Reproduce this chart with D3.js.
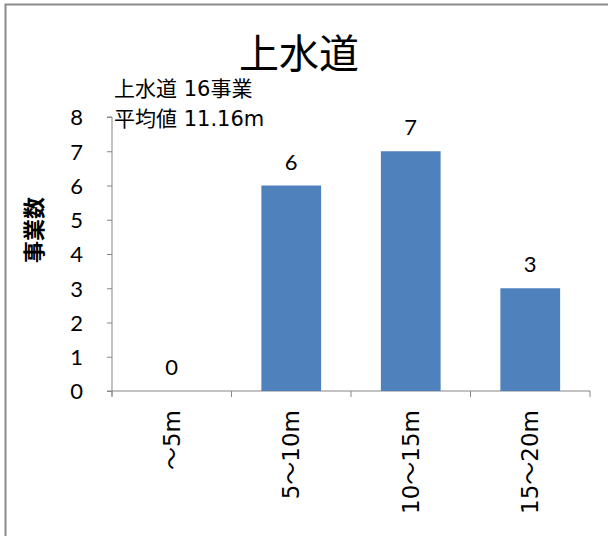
<!DOCTYPE html>
<html>
<head>
<meta charset="utf-8">
<script src="https://cdn.jsdelivr.net/npm/d3@7"></script>
<style>
  body { margin: 0; background: #fff; }
  svg { display: block; }
  .tick text { font-family: Lato, "Liberation Sans", sans-serif; }
</style>
</head>
<body>
<div id="chart"></div>
<script>
const categories = ['～5m', '5～10m', '10～15m', '15～20m'];
const counts = [0, 6, 7, 3];
const yTicks = [0, 1, 2, 3, 4, 5, 6, 7, 8];
const titleText = '上水道';
const noteLines = ['上水道 16事業', '平均値 11.16m'];
const yLabel = '事業数';

const width = 608;
const height = 536;
const margin = { top: 117, right: 18, bottom: 145, left: 112 };
const jpFont = '"DejaVu Sans", "Noto Sans CJK JP", sans-serif';

const svg = d3.select('#chart')
              .append('svg')
              .attr('width', width)
              .attr('height', height);

// outer frame (only top and left edges are visible in the original)
svg.append('rect')
   .attr('x', 5.5)
   .attr('y', 4.5)
   .attr('width', width + 10)
   .attr('height', height + 10)
   .attr('fill', 'none')
   .attr('stroke', '#8a8a8a')
   .attr('stroke-width', 2);

const x = d3.scaleBand()
            .domain(categories)
            .range([margin.left, width - margin.right])
            .paddingInner(0.5)
            .paddingOuter(0.25);

const y = d3.scaleLinear()
            .domain([0, 8])
            .range([height - margin.bottom, margin.top]);

const axisColor = '#868686';

// y axis
const yAxis = svg.append('g')
                 .attr('transform', 'translate(' + margin.left + ',0)')
                 .call(d3.axisLeft(y).tickValues(yTicks).tickSize(5).tickPadding(24));
yAxis.selectAll('path, line').attr('stroke', axisColor);
yAxis.select('.domain').attr('d', 'M-5,' + y(8) + 'H0V' + (y(0) + 5));
yAxis.selectAll('text')
     .style('font-size', '22px')
     .attr('fill', '#000')
     .attr('dy', '0.36em');

// x axis (ticks at band boundaries)
const xAxisG = svg.append('g')
                  .attr('transform', 'translate(0,' + y(0) + ')');
xAxisG.append('line')
      .attr('x1', margin.left - 5)
      .attr('x2', width - margin.right)
      .attr('stroke', axisColor);
const step = x.step();
const bounds = d3.range(categories.length + 1).map((i) => margin.left + i * step);
xAxisG.selectAll('.xt')
      .data(bounds)
      .enter()
      .append('line')
      .attr('class', 'xt')
      .attr('x1', (d) => d)
      .attr('x2', (d) => d)
      .attr('y1', 0)
      .attr('y2', 6)
      .attr('stroke', axisColor);

xAxisG.selectAll('.xl')
      .data(categories)
      .enter()
      .append('text')
      .attr('class', 'xl')
      .attr('transform', (d) => 'translate(' + (x(d) + x.bandwidth() / 2 + 8) + ',19) rotate(-90)')
      .attr('text-anchor', 'end')
      .style('font-family', jpFont)
      .style('font-size', '23px')
      .text((d) => d);

// bars
svg.selectAll('.bar')
   .data(counts)
   .enter()
   .append('rect')
   .attr('class', 'bar')
   .attr('x', (d, i) => x(categories[i]))
   .attr('y', (d) => y(d))
   .attr('width', x.bandwidth())
   .attr('height', (d) => y(0) - y(d))
   .attr('fill', '#4F81BD');

// value labels
svg.selectAll('.val')
   .data(counts)
   .enter()
   .append('text')
   .attr('class', 'val')
   .attr('x', (d, i) => x(categories[i]) + x.bandwidth() / 2)
   .attr('y', (d) => y(d) - 16)
   .attr('text-anchor', 'middle')
   .style('font-family', 'Lato, "Liberation Sans", sans-serif')
   .style('font-size', '22px')
   .text((d) => d);

// title
svg.append('text')
   .attr('x', 299)
   .attr('y', 68)
   .attr('text-anchor', 'middle')
   .style('font-family', '"Noto Sans CJK JP", sans-serif')
   .style('font-size', '40px')
   .text(titleText);

// note
svg.selectAll('.note')
   .data(noteLines)
   .enter()
   .append('text')
   .attr('class', 'note')
   .attr('x', 114)
   .attr('y', (d, i) => 96 + i * 30)
   .style('font-family', jpFont)
   .style('font-size', '21px')
   .text((d) => d);

// y label
svg.append('text')
   .attr('transform', 'translate(42,230) rotate(-90)')
   .attr('text-anchor', 'middle')
   .style('font-family', '"Noto Sans CJK JP", sans-serif')
   .style('font-size', '22px')
   .style('font-weight', 'bold')
   .text(yLabel);
</script>
</body>
</html>
